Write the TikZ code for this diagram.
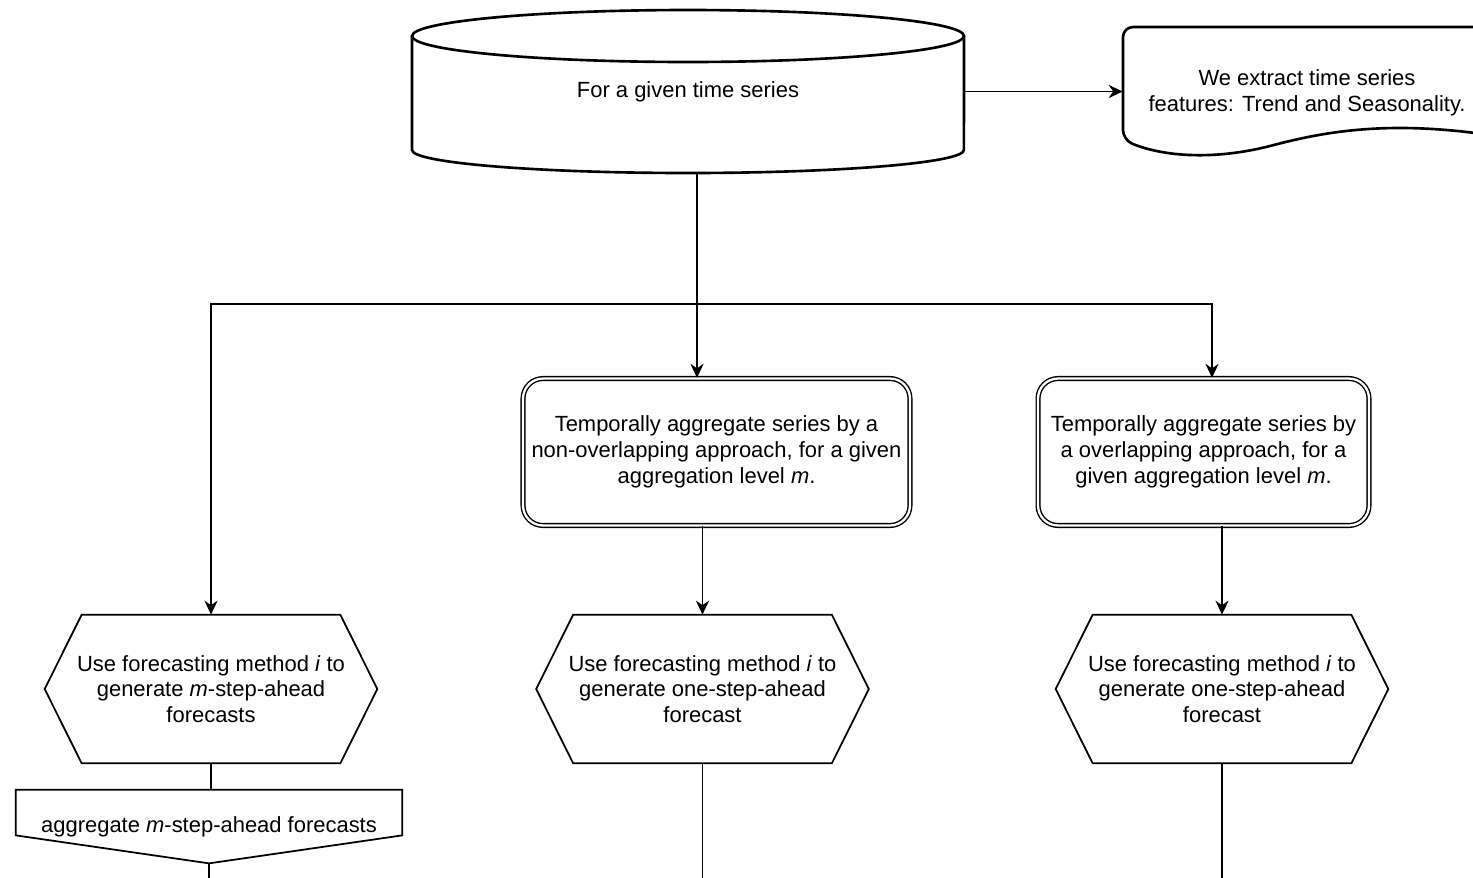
\documentclass[tikz,border=0pt]{standalone}
\usepackage{fontspec}
\setmainfont{Liberation Sans}
\usetikzlibrary{arrows.meta}
\newcommand\hexpath[1]{\draw[hexline] ([xshift=0.74cm]#1.north west) -- ([xshift=-0.74cm]#1.north east) -- (#1.east) -- ([xshift=-0.74cm]#1.south east) -- ([xshift=0.74cm]#1.south west) -- (#1.west) -- cycle;}
\begin{document}
\begin{tikzpicture}[x=0.02cm,y=-0.02cm,
  font=\fontsize{12.5}{14.7}\selectfont,
  shp/.style={draw=black, line width=1.5pt},
  hexline/.style={draw=black, line width=1pt},
  conn/.style={draw=black, line width=0.75pt},
  arr/.style={conn, -{Stealth[length=8pt,width=7.5pt]}},
  dbox/.style={draw=black, double=white, line width=0.8pt, double distance=1.3pt, rounded corners=0.4cm, align=center, inner sep=0pt},
  anchorbox/.style={inner sep=0pt, align=center},
]
\clip (0,0) rectangle (1473,877);
% cylinder
\draw[shp] (412,36) -- (412,150) arc[start angle=180,end angle=360,x radius=5.52cm,y radius=0.46cm] -- (964,36);
\draw[shp] (688,36) ellipse [x radius=5.52cm, y radius=0.52cm];
\node[anchorbox, minimum width=11.04cm, minimum height=3.26cm] (db) at (688,91.5) {For a given time series};
% document
\draw[shp, rounded corners=0.2cm] (1520,27) -- (1123,27) -- (1123,140) [sharp corners] .. controls (1165,157) and (1215,160) .. (1270,146) .. controls (1330,130) and (1400,118) .. (1520,140);
\node[anchorbox, minimum width=7.36cm, minimum height=2.6cm] (doc) at (1307,93) {We extract time series\\features: Trend and Seasonality.};
% boxes
\node[dbox, minimum width=7.74cm, minimum height=2.94cm] (m1) at (716.5,452) {Temporally aggregate series by a\\non-overlapping approach, for a given\\aggregation level \textit{m}.};
\node[dbox, minimum width=6.62cm, minimum height=2.94cm] (m2) at (1203.5,452) {Temporally aggregate series by\\a overlapping approach, for a\\given aggregation level \textit{m}.};
% hexagons
\node[anchorbox, minimum width=6.64cm, minimum height=2.96cm] (hL) at (211,689) {Use forecasting method \textit{i} to\\generate \textit{m}-step-ahead\\forecasts};
\node[anchorbox, minimum width=6.64cm, minimum height=2.96cm] (hM) at (702.5,689) {Use forecasting method \textit{i} to\\generate one-step-ahead\\forecast};
\node[anchorbox, minimum width=6.64cm, minimum height=2.96cm] (hR) at (1222,689) {Use forecasting method \textit{i} to\\generate one-step-ahead\\forecast};
\hexpath{hL}
\hexpath{hM}
\hexpath{hR}
% off-page connector
\node[anchorbox, minimum width=7.72cm, minimum height=1.46cm] (agg) at (209,826.5) {aggregate \textit{m}-step-ahead forecasts};
\draw[hexline] (agg.north west) -- (agg.north east) -- ([yshift=0.56cm]agg.south east) -- (agg.south) -- ([yshift=0.56cm]agg.south west) -- cycle;
% coordinates
\coordinate (split) at (697,304);
\coordinate (splitR) at (1212,304);
\coordinate (eL) at (209,900);
\coordinate (eM) at (702.5,900);
\coordinate (eR) at (1222,900);
% connectors
\draw[arr] (db.east) -- (db.east -| doc.west);
\draw[conn] (db.south -| split) -- (split);
\draw[arr] (split) -- (split |- m1.north);
\draw[arr] (split) -| (hL.north);
\draw[arr] (split) -- (splitR) -- (splitR |- m2.north);
\draw[arr] (hM |- m1.south) -- (hM.north);
\draw[arr] (hR |- m2.south) -- (hR.north);
\draw[conn] (hL.south) -- (hL.south |- agg.north);
\draw[conn] (agg.south) -- (eL);
\draw[conn] (hM.south) -- (eM);
\draw[conn] (hR.south) -- (eR);
\end{tikzpicture}
\end{document}
